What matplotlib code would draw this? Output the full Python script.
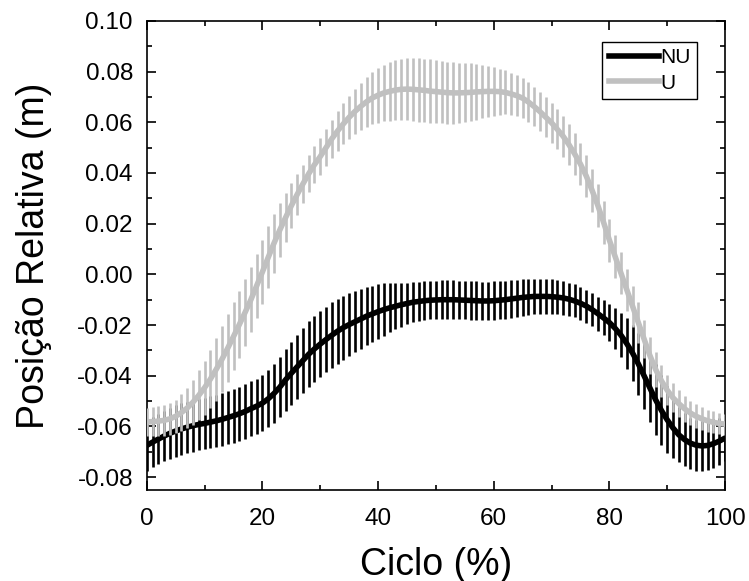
"""
Posição relativa ao longo do ciclo (NU vs U), média ± DP
"""

import matplotlib
matplotlib.use("Agg")
import matplotlib.pyplot as plt
import matplotlib.ticker as mticker
import numpy as np

plt.rcParams["font.family"] = ["Liberation Sans", "DejaVu Sans"]
plt.rcParams["axes.unicode_minus"] = False

# ── Dados ────────────────────────────────────────────────────────────────────
ciclo = list(range(0, 101))

nu_media = [
    -0.0675, -0.0662, -0.0650, -0.0638, -0.0627, -0.0618, -0.0610, -0.0603, -0.0597, -0.0592,
    -0.0588, -0.0583, -0.0578, -0.0572, -0.0565, -0.0558, -0.0550, -0.0541, -0.0530, -0.0520,
    -0.0508, -0.0491, -0.0470, -0.0445, -0.0416, -0.0390, -0.0365, -0.0340, -0.0315, -0.0294,
    -0.0275, -0.0257, -0.0240, -0.0224, -0.0210, -0.0198, -0.0187, -0.0176, -0.0165, -0.0156,
    -0.0147, -0.0139, -0.0132, -0.0126, -0.0120, -0.0115, -0.0110, -0.0107, -0.0104, -0.0102,
    -0.0101, -0.0100, -0.0100, -0.0100, -0.0101, -0.0102, -0.0103, -0.0104, -0.0105, -0.0105,
    -0.0104, -0.0102, -0.0100, -0.0097, -0.0094, -0.0091, -0.0089, -0.0087, -0.0087, -0.0087,
    -0.0088, -0.0090, -0.0093, -0.0098, -0.0105, -0.0114, -0.0125, -0.0139, -0.0155, -0.0172,
    -0.0190, -0.0213, -0.0240, -0.0273, -0.0310, -0.0353, -0.0400, -0.0448, -0.0495, -0.0537,
    -0.0574, -0.0606, -0.0633, -0.0652, -0.0666, -0.0674, -0.0677, -0.0675, -0.0668, -0.0658,
    -0.0646,
]
nu_dp = [
    0.0100, 0.0100, 0.0100, 0.0100, 0.0101, 0.0101, 0.0101, 0.0101, 0.0102, 0.0102,
    0.0102, 0.0103, 0.0103, 0.0104, 0.0105, 0.0106, 0.0106, 0.0107, 0.0108, 0.0109,
    0.0110, 0.0113, 0.0116, 0.0119, 0.0122, 0.0125, 0.0127, 0.0128, 0.0129, 0.0130,
    0.0130, 0.0130, 0.0129, 0.0128, 0.0126, 0.0124, 0.0121, 0.0118, 0.0115, 0.0112,
    0.0108, 0.0103, 0.0097, 0.0091, 0.0086, 0.0082, 0.0079, 0.0077, 0.0076, 0.0076,
    0.0076, 0.0076, 0.0076, 0.0076, 0.0076, 0.0076, 0.0076, 0.0076, 0.0076, 0.0076,
    0.0076, 0.0075, 0.0075, 0.0074, 0.0073, 0.0072, 0.0071, 0.0070, 0.0069, 0.0068,
    0.0068, 0.0067, 0.0066, 0.0065, 0.0065, 0.0065, 0.0065, 0.0066, 0.0067, 0.0069,
    0.0072, 0.0080, 0.0088, 0.0100, 0.0112, 0.0122, 0.0130, 0.0136, 0.0140, 0.0138,
    0.0132, 0.0120, 0.0108, 0.0103, 0.0101, 0.0100, 0.0100, 0.0098, 0.0096, 0.0093,
    0.0090,
]

u_media = [
    -0.0582, -0.0581, -0.0579, -0.0576, -0.0570, -0.0560, -0.0545, -0.0527, -0.0504, -0.0477,
    -0.0447, -0.0413, -0.0375, -0.0335, -0.0291, -0.0245, -0.0198, -0.0150, -0.0100, -0.0045,
    0.0010, 0.0067, 0.0123, 0.0175, 0.0224, 0.0271, 0.0315, 0.0357, 0.0397, 0.0433,
    0.0465, 0.0500, 0.0535, 0.0566, 0.0594, 0.0620, 0.0643, 0.0663, 0.0681, 0.0696,
    0.0707, 0.0716, 0.0722, 0.0727, 0.0730, 0.0731, 0.0730, 0.0728, 0.0726, 0.0723,
    0.0721, 0.0719, 0.0717, 0.0716, 0.0716, 0.0717, 0.0718, 0.0720, 0.0721, 0.0722,
    0.0722, 0.0721, 0.0718, 0.0712, 0.0705, 0.0695, 0.0680, 0.0662, 0.0642, 0.0620,
    0.0598, 0.0572, 0.0545, 0.0512, 0.0475, 0.0435, 0.0388, 0.0332, 0.0272, 0.0205,
    0.0135, 0.0070, 0.0005, -0.0060, -0.0125, -0.0190, -0.0255, -0.0320, -0.0375, -0.0420,
    -0.0457, -0.0487, -0.0510, -0.0530, -0.0547, -0.0560, -0.0570, -0.0578, -0.0584, -0.0588,
    -0.0591,
]
u_dp = [
    0.0055, 0.0057, 0.0059, 0.0061, 0.0063, 0.0066, 0.0072, 0.0080, 0.0089, 0.0098,
    0.0107, 0.0116, 0.0124, 0.0130, 0.0133, 0.0134, 0.0133, 0.0131, 0.0129, 0.0127,
    0.0125, 0.0122, 0.0116, 0.0108, 0.0098, 0.0089, 0.0081, 0.0076, 0.0073, 0.0072,
    0.0072, 0.0073, 0.0075, 0.0078, 0.0081, 0.0085, 0.0089, 0.0094, 0.0099, 0.0104,
    0.0108, 0.0112, 0.0116, 0.0119, 0.0121, 0.0123, 0.0124, 0.0125, 0.0125, 0.0125,
    0.0124, 0.0123, 0.0122, 0.0121, 0.0119, 0.0117, 0.0114, 0.0110, 0.0106, 0.0101,
    0.0096, 0.0091, 0.0087, 0.0084, 0.0082, 0.0080, 0.0079, 0.0078, 0.0078, 0.0078,
    0.0078, 0.0079, 0.0080, 0.0081, 0.0082, 0.0083, 0.0084, 0.0085, 0.0085, 0.0085,
    0.0085, 0.0085, 0.0084, 0.0083, 0.0081, 0.0079, 0.0076, 0.0072, 0.0068, 0.0064,
    0.0060, 0.0057, 0.0054, 0.0051, 0.0049, 0.0047, 0.0045, 0.0044, 0.0043, 0.0042,
    0.0041,
]

COR_NU = "black"
COR_U = "#c0c0c0"

# ── Figura ───────────────────────────────────────────────────────────────────
fig = plt.figure(figsize=(7.49, 5.81), dpi=100)
ax = fig.add_axes([0.196, 0.157, 0.772, 0.807])

ax.errorbar(ciclo, nu_media, yerr=nu_dp, fmt="none", ecolor=COR_NU,
            elinewidth=1.9, capsize=0, zorder=2)
ax.plot(ciclo, nu_media, color=COR_NU, lw=4.0, label="NU", zorder=3)
ax.errorbar(ciclo, u_media, yerr=u_dp, fmt="none", ecolor=COR_U,
            elinewidth=1.9, capsize=0, zorder=4)
ax.plot(ciclo, u_media, color=COR_U, lw=4.0, label="U", zorder=5)

ax.set_xlim(0, 100)
ax.set_ylim(-0.085, 0.10)
ax.xaxis.set_major_locator(mticker.MultipleLocator(20))
ax.xaxis.set_minor_locator(mticker.MultipleLocator(10))
ax.yaxis.set_major_locator(mticker.MultipleLocator(0.02))
ax.yaxis.set_minor_locator(mticker.MultipleLocator(0.01))
ax.yaxis.set_major_formatter(mticker.FormatStrFormatter("%.2f"))

ax.tick_params(which="both", direction="in", top=True, right=True, width=1.2,
               labelsize=17.5)
ax.tick_params(axis="x", which="major", pad=13)
ax.tick_params(axis="y", which="major", pad=10)
ax.tick_params(which="major", length=6.5)
ax.tick_params(which="minor", length=3.5)
for s in ax.spines.values():
    s.set_linewidth(1.2)

ax.set_xlabel("Ciclo (%)", fontsize=27, labelpad=12)
ax.set_ylabel("Posição Relativa (m)", fontsize=27, labelpad=18)

leg = ax.legend(loc="upper right", bbox_to_anchor=(0.952, 0.955), borderaxespad=0,
                fontsize=15, handlelength=2.4, handletextpad=0.1, labelspacing=0.3,
                borderpad=0.3, fancybox=False, framealpha=1, edgecolor="black")
leg.get_frame().set_linewidth(1.0)

fig.savefig("out.png", dpi=100)
